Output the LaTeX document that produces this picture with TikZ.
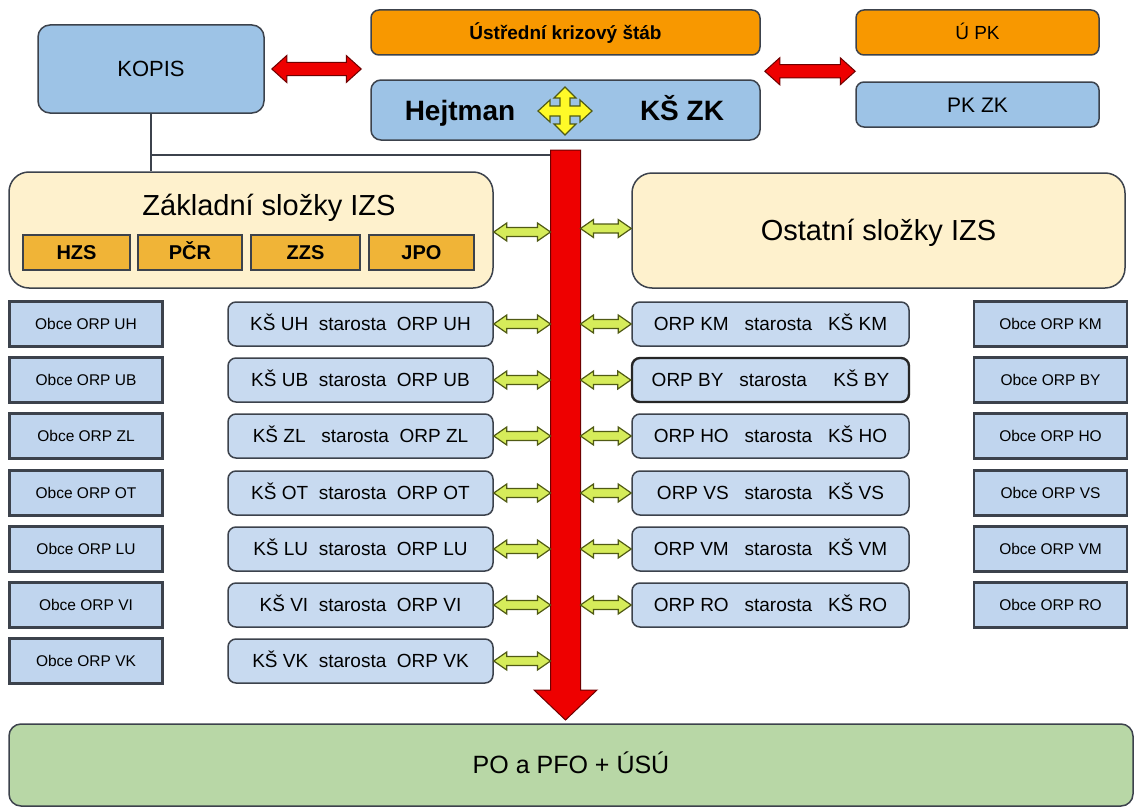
\documentclass[tikz,border=0pt]{standalone}
\usepackage{fontspec}
\setmainfont{Liberation Sans}
\usetikzlibrary{calc}

\definecolor{kblue}{RGB}{157,195,230}
\definecolor{rblue}{RGB}{200,218,240}
\definecolor{oblue}{RGB}{192,213,238}
\definecolor{korange}{RGB}{248,152,0}
\definecolor{kgold}{RGB}{240,180,55}
\definecolor{kcream}{RGB}{254,241,205}
\definecolor{kgreen}{RGB}{184,215,166}
\definecolor{kline}{RGB}{60,66,76}
\definecolor{alime}{RGB}{214,236,90}
\definecolor{aolive}{RGB}{80,90,20}
\definecolor{kred}{RGB}{238,0,0}
\definecolor{kdred}{RGB}{110,0,0}
\definecolor{kyellow}{RGB}{255,250,40}

% style, from, to, half shaft, half head, head length
\newcommand{\dblarrow}[6]{%
  \path[#1] let \p1=(#2), \p2=(#3) in
    (\x1,\y1) -- (\x1+#6,\y1+#5) -- (\x1+#6,\y1+#4) -- (\x2-#6,\y1+#4) -- (\x2-#6,\y1+#5)
    -- (\x2,\y1) -- (\x2-#6,\y1-#5) -- (\x2-#6,\y1-#4) -- (\x1+#6,\y1-#4) -- (\x1+#6,\y1-#5) -- cycle;}

\tikzset{
  box/.style={draw=kline, line width=1.5, rounded corners=8, fill=kblue, inner sep=0, text depth=0pt},
  lbl/.style={inner sep=0, text depth=0pt},
  obce/.style={draw=kline, line width=2.2, fill=oblue, minimum width=153, minimum height=45,
    inner sep=0, text height=11.1, text depth=0pt, font=\fontsize{15.5}{18}\selectfont},
  row/.style={box, fill=rblue, minimum height=44, text height=13.6, font=\fontsize{19}{22}\selectfont},
  slozka/.style={draw=kline, line width=1.5, fill=kgold, minimum height=35, inner sep=0,
    text height=14.3, text depth=0pt, font=\fontsize{20}{24}\selectfont\bfseries},
  redarr/.style={draw=kdred, fill=kred, line width=1},
  grarr/.style={draw=aolive, fill=alime, line width=1.2}
}

\begin{document}
\begin{tikzpicture}[x=1pt,y=-1pt]
  \useasboundingbox (0,0) rectangle (1137,808);
  \node[box, rounded corners=12, minimum width=226, minimum height=88, text height=15.7,
    font=\fontsize{22}{26}\selectfont] (kopis) at (151,69) {KOPIS};
  \node[box, fill=korange, minimum width=389, minimum height=45, text height=13.6,
    font=\fontsize{19}{22}\selectfont\bfseries] (uks) at (565.5,32.5) {Ústřední krizový štáb};
  \node[box, rounded corners=10, minimum width=389, minimum height=60] (kk) at (565.5,110) {};
  \node[lbl, text height=20, font=\fontsize{28}{32}\selectfont\bfseries] (hejt) at (460,110) {Hejtman};
  \node[lbl, text height=20, font=\fontsize{28}{32}\selectfont\bfseries] (kszk) at (682,110) {KŠ ZK};
  \node[box, fill=korange, minimum width=243, minimum height=45, text height=13.6,
    font=\fontsize{19}{22}\selectfont] (upk) at (977.5,32.5) {Ú PK};
  \node[box, minimum width=243, minimum height=45, text height=15,
    font=\fontsize{21}{24}\selectfont] (pkzk) at (977.5,104.5) {PK ZK};
  \coordinate (mid) at ($(uks.east)!0.5!(kk.east)$);
  \dblarrow{redarr}{$(kopis.east)+(7,0)$}{$(uks.west |- kopis.east)+(-9,0)$}{6.5}{13.5}{15}
  \dblarrow{redarr}{$(mid)+(4,0)$}{mid -| upk.west}{6.5}{13.5}{15}
  \draw[draw=aolive, fill=kyellow, line width=1.2, shift={(565,111)}]
    (5,-5) -- (15,-5) -- (15,-11) -- (27,0) -- (15,11) -- (15,5) -- (5,5)
    -- (5,13) -- (11,13) -- (0,24) -- (-11,13) -- (-5,13) -- (-5,5)
    -- (-15,5) -- (-15,11) -- (-27,0) -- (-15,-11) -- (-15,-5) -- (-5,-5)
    -- (-5,-13) -- (-11,-13) -- (0,-24) -- (11,-13) -- (5,-13) -- cycle;

  \node[box, fill=kcream, rounded corners=20, minimum width=484, minimum height=116] (zakl) at (251,230) {};
  \node[lbl, text height=20.8, font=\fontsize{29}{34}\selectfont] (zaklt) at (269,205) {Základní složky IZS};
  \node[slozka, minimum width=107] (hzs) at (76.5,252.5) {HZS};
  \node[slozka, minimum width=104] (pcr) at (190,252.5) {PČR};
  \node[slozka, minimum width=109] (zzs) at (305.5,252.5) {ZZS};
  \node[slozka, minimum width=105] (jpo) at (421.5,252.5) {JPO};
  \node[box, fill=kcream, rounded corners=20, minimum width=493, minimum height=115, text height=20.8,
    font=\fontsize{29}{34}\selectfont] (ostat) at (878.5,230.5) {Ostatní složky IZS};

  \coordinate (jn) at (151,155);
  \coordinate (rl) at (550.5,155);
  \coordinate (rr) at (580.5,155);
  \draw[kline, line width=1.5] (kopis.south) -- (kopis.south |- zakl.north);
  \draw[kline, line width=1.5] (jn) -- (rl);

  \node[obce] (obuh) at (86,324) {Obce ORP UH};
  \node[obce] (obub) at (86,380) {Obce ORP UB};
  \node[obce] (obzl) at (86,436) {Obce ORP ZL};
  \node[obce] (obot) at (86,493) {Obce ORP OT};
  \node[obce] (oblu) at (86,549) {Obce ORP LU};
  \node[obce] (obvi) at (86,605) {Obce ORP VI};
  \node[obce] (obvk) at (86,661) {Obce ORP VK};
  \node[row, minimum width=265] (ksuh) at (360.5,324) {KŠ UH~ starosta~ ORP UH};
  \node[row, minimum width=265] (ksub) at (360.5,380) {KŠ UB~ starosta~ ORP UB};
  \node[row, minimum width=265] (kszl) at (360.5,436) {KŠ ZL~~ starosta~ ORP ZL};
  \node[row, minimum width=265] (ksot) at (360.5,493) {KŠ OT~ starosta~ ORP OT};
  \node[row, minimum width=265] (kslu) at (360.5,549) {KŠ LU~ starosta~ ORP LU};
  \node[row, minimum width=265] (ksvi) at (360.5,605) {KŠ VI~ starosta~ ORP VI};
  \node[row, minimum width=265] (ksvk) at (360.5,661) {KŠ VK~ starosta~ ORP VK};
  \node[row, minimum width=277] (orpkm) at (770.5,324) {ORP KM~~ starosta~~ KŠ KM};
  \node[row, minimum width=277, line width=2.4, draw=black!85] (orpby) at (770.5,380) {ORP BY~~ starosta~~~~ KŠ BY};
  \node[row, minimum width=277] (orpho) at (770.5,436) {ORP HO~~ starosta~~ KŠ HO};
  \node[row, minimum width=277] (orpvs) at (770.5,493) {ORP VS~~ starosta~~ KŠ VS};
  \node[row, minimum width=277] (orpvm) at (770.5,549) {ORP VM~~ starosta~~ KŠ VM};
  \node[row, minimum width=277] (orpro) at (770.5,605) {ORP RO~~ starosta~~ KŠ RO};
  \node[obce] (obkm) at (1050.5,324) {Obce ORP KM};
  \node[obce] (obby) at (1050.5,380) {Obce ORP BY};
  \node[obce] (obho) at (1050.5,436) {Obce ORP HO};
  \node[obce] (obvs) at (1050.5,493) {Obce ORP VS};
  \node[obce] (obvm) at (1050.5,549) {Obce ORP VM};
  \node[obce] (obro) at (1050.5,605) {Obce ORP RO};

  \node[box, fill=kgreen, rounded corners=12, minimum width=1124, minimum height=82, text height=17.9,
    font=\fontsize{25}{30}\selectfont] (po) at (571,765) {PO a PFO + ÚSÚ};

  \draw[redarr] (550.5,150) -- (580.5,150) -- (580.5,690) -- (597,690)
    -- (565.5,720) -- (534,690) -- (550.5,690) -- cycle;

  \dblarrow{grarr}{$(zakl.east)+(0,2)$}{$(zakl.east -| rl)+(0,2)$}{4.5}{9}{13}
  \dblarrow{grarr}{$(ostat.west -| rr)+(0,-2)$}{$(ostat.west)+(0,-2)$}{4.5}{9}{13}
  \dblarrow{grarr}{ksuh.east}{ksuh.east -| rl}{4.5}{9}{13}
  \dblarrow{grarr}{ksub.east}{ksub.east -| rl}{4.5}{9}{13}
  \dblarrow{grarr}{kszl.east}{kszl.east -| rl}{4.5}{9}{13}
  \dblarrow{grarr}{ksot.east}{ksot.east -| rl}{4.5}{9}{13}
  \dblarrow{grarr}{kslu.east}{kslu.east -| rl}{4.5}{9}{13}
  \dblarrow{grarr}{ksvi.east}{ksvi.east -| rl}{4.5}{9}{13}
  \dblarrow{grarr}{ksvk.east}{ksvk.east -| rl}{4.5}{9}{13}
  \dblarrow{grarr}{orpkm.west -| rr}{orpkm.west}{4.5}{9}{13}
  \dblarrow{grarr}{orpby.west -| rr}{orpby.west}{4.5}{9}{13}
  \dblarrow{grarr}{orpho.west -| rr}{orpho.west}{4.5}{9}{13}
  \dblarrow{grarr}{orpvs.west -| rr}{orpvs.west}{4.5}{9}{13}
  \dblarrow{grarr}{orpvm.west -| rr}{orpvm.west}{4.5}{9}{13}
  \dblarrow{grarr}{orpro.west -| rr}{orpro.west}{4.5}{9}{13}
\end{tikzpicture}
\end{document}
